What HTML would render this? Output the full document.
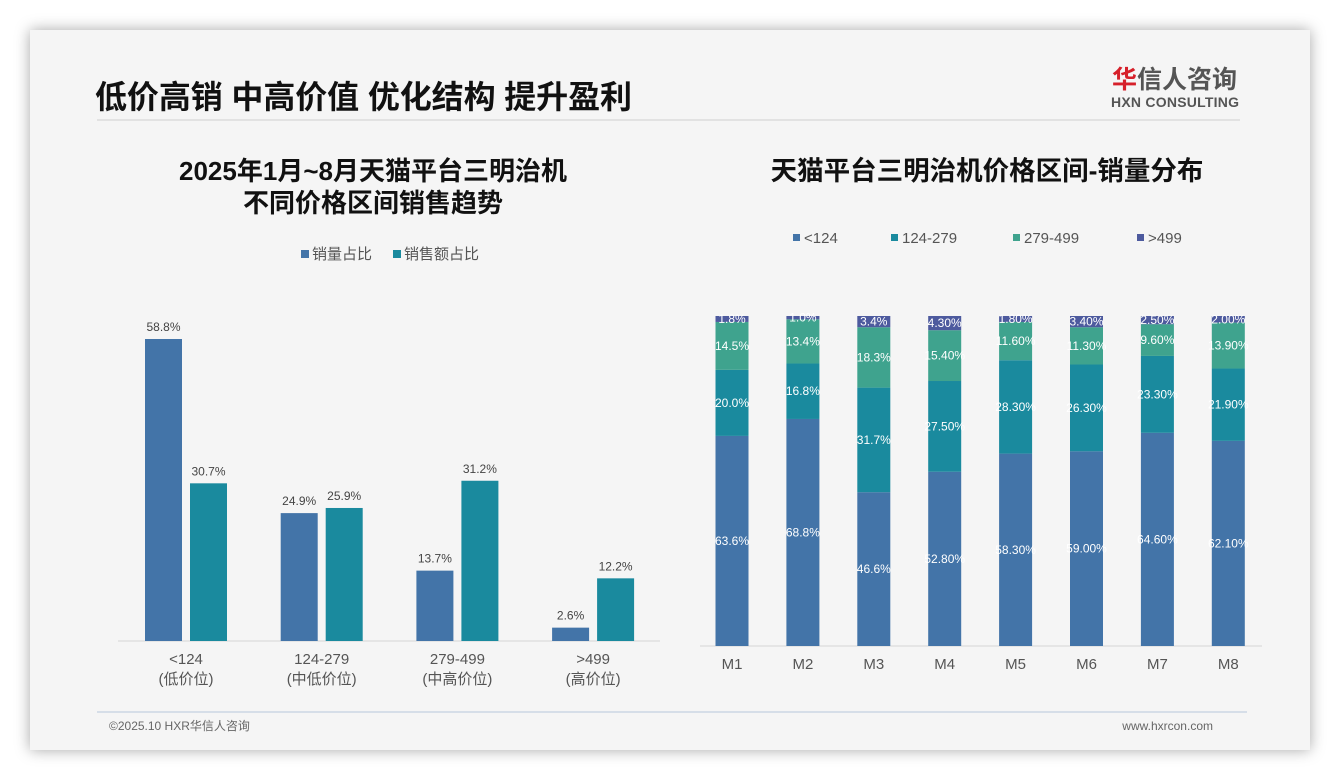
<!DOCTYPE html>
<html><head><meta charset="utf-8"><style>
body{margin:0;width:1340px;height:780px;background:#fff;font-family:"Liberation Sans","Noto Sans CJK SC",sans-serif;overflow:hidden}
#card{position:absolute;left:30px;top:30px;width:1280px;height:720px;background:#f5f5f5;box-shadow:0 0 14px rgba(0,0,0,.35)}
svg text{font-family:"Liberation Sans","Noto Sans CJK SC",sans-serif}
</style></head><body>
<div id="card"></div>
<svg id="s" width="1340" height="780" style="position:absolute;left:0;top:0">
<text x="95" y="108" font-size="32" font-weight="bold" fill="#111" textLength="537">低价高销 中高价值 优化结构 提升盈利</text>
<line x1="97" y1="120" x2="1240" y2="120" stroke="#dcdcdc" stroke-width="1.5"/>
<text x="1112" y="88" font-size="25" font-weight="bold" fill="#555"><tspan fill="#d6202a">华</tspan>信人咨询</text>
<text x="1111" y="107" font-size="14" font-weight="bold" fill="#555" textLength="128">HXN CONSULTING</text>
<text x="373" y="180" font-size="26" font-weight="bold" fill="#111" text-anchor="middle">2025年1月~8月天猫平台三明治机</text>
<text x="373" y="212" font-size="26" font-weight="bold" fill="#111" text-anchor="middle">不同价格区间销售趋势</text>
<text x="987" y="180" font-size="26.5" font-weight="bold" fill="#111" text-anchor="middle">天猫平台三明治机价格区间-销量分布</text>
<rect x="301" y="250" width="8" height="8" fill="#4374a8"/>
<text x="312" y="259" font-size="15" fill="#555">销量占比</text>
<rect x="393" y="250" width="8" height="8" fill="#1a8a9e"/>
<text x="404" y="259" font-size="15" fill="#555">销售额占比</text>
<line x1="118" y1="641" x2="660" y2="641" stroke="#d5d5d5"/>
<line x1="700" y1="646" x2="1262" y2="646" stroke="#d5d5d5"/>
<line x1="97" y1="712" x2="1247" y2="712" stroke="#b8c8dc"/>
<text x="109" y="730" font-size="12" fill="#666">©2025.10 HXR华信人咨询</text>
<text x="1213" y="730" font-size="12" fill="#666" text-anchor="end">www.hxrcon.com</text>
<g id="left"></g><g id="right"></g>
</svg>
<script>
const leftCats=["<124","124-279","279-499",">499"];
const leftSub=["(低价位)","(中低价位)","(中高价位)","(高价位)"];
const volumeShare=[58.8,24.9,13.7,2.6];
const salesShare=[30.7,25.9,31.2,12.2];
const months=["M1","M2","M3","M4","M5","M6","M7","M8"];
const segNames=["<124","124-279","279-499",">499"];
const seg1=[63.6,68.8,46.6,52.8,58.3,59.0,64.6,62.1];
const seg2=[20.0,16.8,31.7,27.5,28.3,26.3,23.3,21.9];
const seg3=[14.5,13.4,18.3,15.4,11.6,11.3,9.6,13.9];
const seg4=[1.8,1.0,3.4,4.3,1.8,3.4,2.5,2.0];
const seg1Lbl=["63.6%","68.8%","46.6%","52.80%","58.30%","59.00%","64.60%","62.10%"];
const seg2Lbl=["20.0%","16.8%","31.7%","27.50%","28.30%","26.30%","23.30%","21.90%"];
const seg3Lbl=["14.5%","13.4%","18.3%","15.40%","11.60%","11.30%","9.60%","13.90%"];
const seg4Lbl=["1.8%","1.0%","3.4%","4.30%","1.80%","3.40%","2.50%","2.00%"];
const NS="http://www.w3.org/2000/svg";
function mk(p,t,a,txt){const e=document.createElementNS(NS,t);for(const k in a)e.setAttribute(k,a[k]);if(txt!=null)e.textContent=txt;p.appendChild(e);return e;}
const L=document.getElementById('left');
const lBase=641,lScale=5.136;
const lx=i=>186+i*135.7;
const ly=v=>lBase-v*lScale;
leftCats.forEach((c,i)=>{
 const cx=lx(i);
 [[volumeShare,'#4374a8',-41,'volume'],[salesShare,'#1a8a9e',4,'sales']].forEach(([arr,col,off,nm])=>{
  const v=arr[i];
  const r=mk(L,'rect',{x:cx+off,y:ly(v),width:37,height:lBase-ly(v),fill:col});
  
  
  const t=mk(L,'text',{x:cx+off+18.5,y:ly(v)-8,'font-size':12,fill:'#444','text-anchor':'middle'},v.toFixed(1)+'%');
  
  
 });
 const a=mk(L,'text',{x:cx,y:664,'font-size':15,fill:'#555','text-anchor':'middle'},c);
 
 
 const b=mk(L,'text',{x:cx,y:684,'font-size':15,fill:'#555','text-anchor':'middle'},leftSub[i]);
 
 
});
const R=document.getElementById('right');
const cols=['#4374a8','#1a8a9e','#3fa38e','#4d5a9e'];
const legX=[793,891,1013,1137];
segNames.forEach((n,k)=>{
 const s=mk(R,'rect',{x:legX[k],y:234,width:7,height:7,fill:cols[k]});
 
 
 const t=mk(R,'text',{x:legX[k]+11,y:243,'font-size':15,fill:'#555'},n);
 
 
});
const rTop=316,rBot=646;
const rx=i=>732+i*70.9;
const segs=[seg1,seg2,seg3,seg4],lbls=[seg1Lbl,seg2Lbl,seg3Lbl,seg4Lbl];
months.forEach((m,i)=>{
 const tot=seg1[i]+seg2[i]+seg3[i]+seg4[i];
 let y=rBot;
 segs.forEach((arr,k)=>{
  const h=arr[i]/tot*(rBot-rTop);
  const r=mk(R,'rect',{x:rx(i)-16.5,y:y-h,width:33,height:h,fill:cols[k]});
  
  
  const t=mk(R,'text',{x:rx(i),y:y-h/2+4,'font-size':12,fill:'#fff','text-anchor':'middle'},lbls[k][i]);
  
  
  y-=h;
 });
 const a=mk(R,'text',{x:rx(i),y:669,'font-size':15,fill:'#555','text-anchor':'middle'},m);
 
 
});
</script>
</body></html>
